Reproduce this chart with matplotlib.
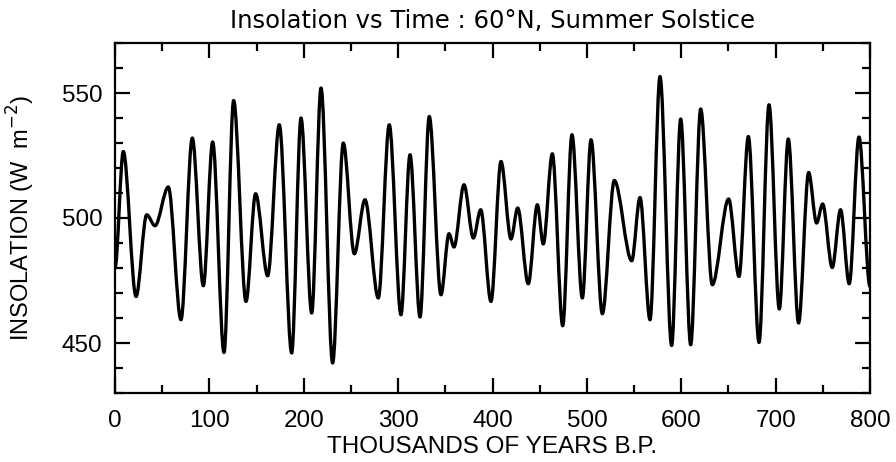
import matplotlib
matplotlib.use("Agg")
import matplotlib.pyplot as plt
from matplotlib.path import Path
from matplotlib.patches import PathPatch
from matplotlib.ticker import MultipleLocator

# Turning points of the insolation curve (kyr B.P., W m^-2)
time_kyr = [0, 8.8, 22.3, 33.6, 42.4, 56.5, 69.9, 81.9, 93.6, 103.5, 115.5, 125.7,
            138.8, 149, 161.8, 174.1, 187.2, 197.1, 208.4, 218.3, 230.6, 241.9,
            253.6, 264.9, 279, 290.6, 303, 312.6, 323.2, 333, 345.4, 353.9, 359.2,
            369.8, 379.7, 387.5, 398.4, 409, 419.6, 426.7, 437.9, 447.5, 453.8,
            463.4, 474.4, 484.2, 495.2, 504.4, 516.4, 529.1, 547.5, 556.3, 566.9,
            577.5, 589.8, 599.4, 610, 620.6, 632.9, 650.2, 661.2, 671.1, 682.4,
            693, 703.9, 713.4, 724.3, 735, 743.4, 749.8, 760, 768.8, 778, 788.3, 800]
insolation = [480, 526.6, 468.6, 501.3, 496.9, 512.4, 459.3, 532, 472.9, 530.4,
              446.2, 547, 466.6, 509.7, 476.9, 537.3, 446, 540, 462, 552, 442, 530,
              485.7, 507.3, 468, 537.3, 461.3, 525.3, 460.4, 540.6, 469.3, 493.7,
              488.4, 513.3, 492, 503.3, 466.6, 522.6, 491.6, 504, 473.7, 505.3,
              489.6, 525.7, 456.9, 533.3, 468, 531.3, 461.7, 515, 482.9, 508.2,
              459.3, 556.6, 449, 539.6, 449.3, 543.6, 473.3, 507.6, 476.6, 532.6,
              450.2, 545.3, 463.6, 531.6, 458, 518.2, 498, 505.6, 480.2, 503.3,
              473.7, 532.4, 472.6]

x_ticks = [0, 100, 200, 300, 400, 500, 600, 700, 800]
y_ticks = [450, 500, 550]

title = "Insolation vs Time : 60\u00b0N, Summer Solstice"
xlabel = "THOUSANDS OF YEARS B.P."
ylabel = r"INSOLATION (W  m$^{-2}$)"

fig = plt.figure(figsize=(8.96, 4.62), dpi=100)
ax = fig.add_axes([115 / 896, 1 - 393 / 462, 755 / 896, 350 / 462])

# smooth curve through the turning points (horizontal tangents at each one)
verts = [(time_kyr[0], insolation[0])]
codes = [Path.MOVETO]
for i in range(1, len(time_kyr)):
    x0, y0 = time_kyr[i - 1], insolation[i - 1]
    x1, y1 = time_kyr[i], insolation[i]
    dx = x1 - x0
    verts += [(x0 + dx / 3, y0), (x1 - dx / 3, y1), (x1, y1)]
    codes += [Path.CURVE4] * 3
patch = PathPatch(Path(verts, codes), facecolor="none", edgecolor="black",
                  lw=2.4, joinstyle="round", capstyle="round")
ax.add_patch(patch)

ax.set_xlim(0, 800)
ax.set_ylim(430, 570)
ax.set_xticks(x_ticks)
ax.set_yticks(y_ticks)
ax.xaxis.set_minor_locator(MultipleLocator(50))
ax.yaxis.set_minor_locator(MultipleLocator(10))

tick_font = dict(family="Liberation Sans", size=17.5)
ax.set_xticklabels([str(v) for v in x_ticks], **tick_font)
ax.set_yticklabels([str(v) for v in y_ticks], **tick_font)

ax.tick_params(which="both", direction="in", top=True, right=True, width=1.6, color="black")
ax.tick_params(which="major", length=11)
ax.tick_params(which="minor", length=6)
ax.tick_params(axis="x", which="major", pad=12)
ax.tick_params(axis="y", which="major", pad=9)
for s in ax.spines.values():
    s.set_linewidth(1.6)

ax.set_title(title, family="DejaVu Sans", fontsize=17.5, pad=11)
ax.set_xlabel(xlabel, family="Liberation Sans", fontsize=17.5)
ax.xaxis.set_label_coords(0.5, -0.122)
ax.set_ylabel(ylabel, family="Liberation Sans", fontsize=17)
ax.yaxis.set_label_coords(-0.103, 0.5)

fig.savefig("out.png", dpi=100)
